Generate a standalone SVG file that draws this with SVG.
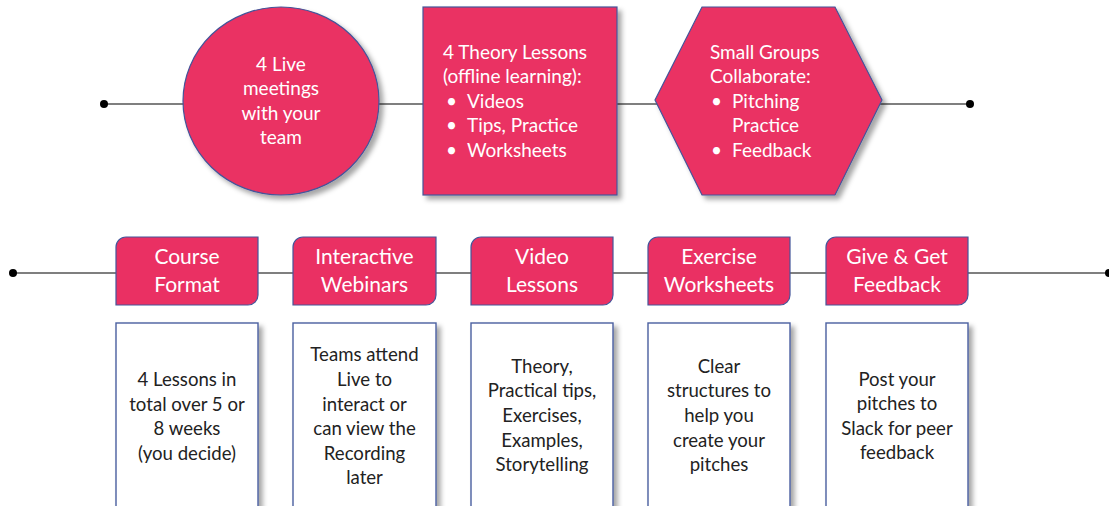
<svg xmlns="http://www.w3.org/2000/svg" width="1109" height="506" viewBox="0 0 1109 506">
<style>
.pink{fill:#EA3063;stroke:#44559A;stroke-width:1.2}
.card{fill:#FFFFFF;stroke:#4A5FA0;stroke-width:1.4}
.wt{font-family:Lato,"Open Sans","Liberation Sans",sans-serif;font-size:19px;fill:#FFFFFF}
.lt{font-family:Lato,"Open Sans","Liberation Sans",sans-serif;font-size:21px;fill:#FFFFFF;text-anchor:middle}
.bt{font-family:Lato,"Open Sans","Liberation Sans",sans-serif;font-size:18.6px;fill:#222222;text-anchor:middle}
.ln{stroke:#555555;stroke-width:1.5;fill:none}
.dot{fill:#000000}
</style>
<defs>
<filter id="sh" x="-10%" y="-10%" width="125%" height="125%">
<feDropShadow dx="4" dy="4" stdDeviation="2.5" flood-color="#000000" flood-opacity="0.35"/>
</filter>
</defs>
<rect width="1109" height="506" fill="#FFFFFF"/>
<g id="connectors">
<line class="ln" x1="104" y1="104" x2="970" y2="104"/>
<circle class="dot" cx="104" cy="104" r="4"/>
<circle class="dot" cx="970" cy="104" r="4"/>
<line class="ln" x1="13" y1="273" x2="1109" y2="273"/>
<circle class="dot" cx="13" cy="273" r="4"/>
<circle class="dot" cx="1109" cy="273" r="4"/>
</g>
<g id="live-meetings">
<ellipse class="pink" cx="281" cy="101" rx="98" ry="94" filter="url(#sh)"/>
<text class="wt" text-anchor="middle"><tspan x="281" y="71">4 Live</tspan><tspan x="281" y="95">meetings</tspan><tspan x="281" y="120">with your</tspan><tspan x="281" y="144">team</tspan></text>
</g>
<g id="theory-lessons">
<rect class="pink" x="423" y="7" width="194" height="188" filter="url(#sh)"/>
<text class="wt"><tspan x="443" y="59">4 Theory Lessons</tspan><tspan x="443" y="83">(offline learning):</tspan><tspan x="446" y="108">•</tspan><tspan x="467" y="108">Videos</tspan><tspan x="446" y="132">•</tspan><tspan x="467" y="132">Tips, Practice</tspan><tspan x="446" y="157">•</tspan><tspan x="467" y="157">Worksheets</tspan></text>
</g>
<g id="small-groups">
<polygon class="pink" points="655,100 702,7 835,7 882,100 835,195 702,195" filter="url(#sh)"/>
<text class="wt"><tspan x="710" y="59">Small Groups</tspan><tspan x="710" y="83">Collaborate:</tspan><tspan x="711" y="108">•</tspan><tspan x="732" y="108">Pitching</tspan><tspan x="732" y="132">Practice</tspan><tspan x="711" y="157">•</tspan><tspan x="732" y="157">Feedback</tspan></text>
</g>
<g id="course-format">
<path class="pink" d="M126,237 H258 V295 A10,10 0 0 1 248,305 H116 V247 A10,10 0 0 1 126,237 Z"/>
<text class="lt"><tspan x="187" y="264">Course</tspan><tspan x="187" y="292">Format</tspan></text>
<rect class="card" x="116" y="323" width="142" height="200" filter="url(#sh)"/>
<text class="bt"><tspan x="187" y="386">4 Lessons in</tspan><tspan x="187" y="411">total over 5 or</tspan><tspan x="187" y="435">8 weeks</tspan><tspan x="187" y="460">(you decide)</tspan></text>
</g>
<g id="interactive-webinars">
<path class="pink" d="M303,237 H436 V295 A10,10 0 0 1 426,305 H293 V247 A10,10 0 0 1 303,237 Z"/>
<text class="lt"><tspan x="364.5" y="264">Interactive</tspan><tspan x="364.5" y="292">Webinars</tspan></text>
<rect class="card" x="293" y="323" width="143" height="200" filter="url(#sh)"/>
<text class="bt"><tspan x="364.5" y="361">Teams attend</tspan><tspan x="364.5" y="386">Live to</tspan><tspan x="364.5" y="411">interact or</tspan><tspan x="364.5" y="435">can view the</tspan><tspan x="364.5" y="460">Recording</tspan><tspan x="364.5" y="484">later</tspan></text>
</g>
<g id="video-lessons">
<path class="pink" d="M481,237 H613 V295 A10,10 0 0 1 603,305 H471 V247 A10,10 0 0 1 481,237 Z"/>
<text class="lt"><tspan x="542" y="264">Video</tspan><tspan x="542" y="292">Lessons</tspan></text>
<rect class="card" x="471" y="323" width="142" height="200" filter="url(#sh)"/>
<text class="bt"><tspan x="542" y="373">Theory,</tspan><tspan x="542" y="397">Practical tips,</tspan><tspan x="542" y="422">Exercises,</tspan><tspan x="542" y="447">Examples,</tspan><tspan x="542" y="471">Storytelling</tspan></text>
</g>
<g id="exercise-worksheets">
<path class="pink" d="M658,237 H790 V295 A10,10 0 0 1 780,305 H648 V247 A10,10 0 0 1 658,237 Z"/>
<text class="lt"><tspan x="719" y="264">Exercise</tspan><tspan x="719" y="292">Worksheets</tspan></text>
<rect class="card" x="648" y="323" width="142" height="200" filter="url(#sh)"/>
<text class="bt"><tspan x="719" y="373">Clear</tspan><tspan x="719" y="397">structures to</tspan><tspan x="719" y="422">help you</tspan><tspan x="719" y="447">create your</tspan><tspan x="719" y="471">pitches</tspan></text>
</g>
<g id="give-get-feedback">
<path class="pink" d="M836,237 H968 V295 A10,10 0 0 1 958,305 H826 V247 A10,10 0 0 1 836,237 Z"/>
<text class="lt"><tspan x="897" y="264">Give &amp; Get</tspan><tspan x="897" y="292">Feedback</tspan></text>
<rect class="card" x="826" y="323" width="142" height="200" filter="url(#sh)"/>
<text class="bt"><tspan x="897" y="386">Post your</tspan><tspan x="897" y="410">pitches to</tspan><tspan x="897" y="435">Slack for peer</tspan><tspan x="897" y="459">feedback</tspan></text>
</g>
</svg>
